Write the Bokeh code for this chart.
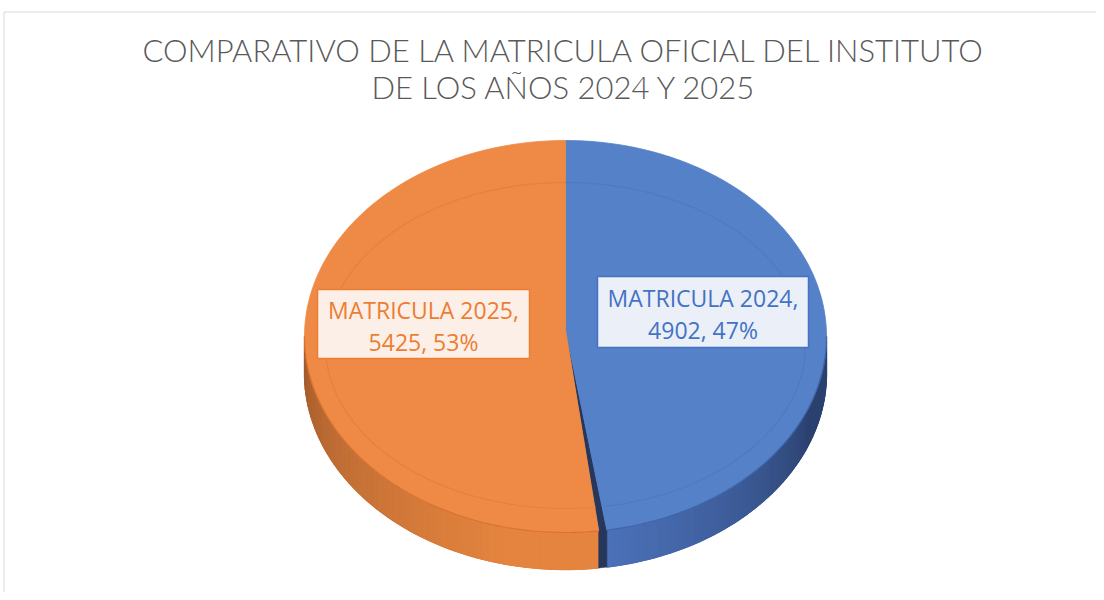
import numpy as np
from bokeh.plotting import figure
from bokeh.models import Range1d
from bokeh.embed import file_html
from bokeh.resources import INLINE
from bokeh.core.properties import value

# ---------------- data ----------------
categories = ["MATRICULA 2024", "MATRICULA 2025"]
values = [4902, 5425]
title_lines = ["COMPARATIVO DE LA MATRICULA OFICIAL DEL INSTITUTO",
               "DE LOS AÑOS 2024 Y 2025"]

# ---------------- styles ----------------
top_colors = ["#5581C9", "#EE8A45"]
ring_colors = ["#4C78C2", "#E37D3A"]
seam_colors = ["#3D64A8", "#D8722F"]
side_dark = ["#2B416F", "#A25B2B"]
side_light = ["#4C72BA", "#E4843F"]
text_colors = ["#4472C4", "#ED7D31"]
box_fills = ["#EAEFF8", "#FCEFE8"]
box_lines = ["#4472C4", "#ED7D31"]
label_boxes = [(597, 808, 276, 347), (317, 529, 289, 358)]   # left, right, top, bottom
label_text_y = [(297, 329), (309, 341)]                     # centre of caps, 2 lines

W, H = 1096, 592
p = figure(width=W, height=H, x_range=Range1d(0, W), y_range=Range1d(H, 0),
           output_backend="svg", toolbar_location=None, min_border=0,
           outline_line_color=None)
p.axis.visible = False
p.grid.visible = False
p.background_fill_color = "white"
p.border_fill_color = "white"

# chart area border
p.line([3.5, 3.5], [600, 11.5], line_color="#D9D9D9", line_width=1)
p.line([3.5, 1104], [11.5, 11.5], line_color="#D9D9D9", line_width=1)

cx, cy, a, b, depth = 565.0, 336.0, 261.0, 196.0, 37.0
apx, apy = 565.0, 329.0
gap = np.radians(1.8)


def ex(t):
    return cx + a * np.sin(t)


def ey(t, dy=0.0):
    return cy - b * np.cos(t) + dy


def hex2rgb(h):
    h = h.lstrip("#")
    return np.array([int(h[i:i + 2], 16) for i in (0, 2, 4)], dtype=float)


def mix(c1, c2, t):
    r = hex2rgb(c1) * (1 - t) + hex2rgb(c2) * t
    return "#%02x%02x%02x" % tuple(int(round(v)) for v in r)


total = float(sum(values))
bounds = np.concatenate([[0.0], np.cumsum(values) / total]) * 2 * np.pi
starts = [bounds[0], bounds[1] + gap]
ends = [bounds[1], bounds[2]]

# ---------------- side walls ----------------
for i in range(len(values)):
    s = max(starts[i], np.pi / 2)
    e = min(ends[i], 3 * np.pi / 2)
    if e <= s:
        continue
    # solid base band
    tt = np.linspace(s, e, 200)
    base = mix(side_dark[i], side_light[i], 0.6)
    p.patch(np.concatenate([ex(tt), ex(tt[::-1])]),
            np.concatenate([ey(tt), ey(tt[::-1], depth)]),
            fill_color=base, line_color=base, line_width=1)
    n = 60
    ts = np.linspace(s, e, n + 1)
    xs, ys, cols = [], [], []
    for k in range(n):
        t0, t1 = ts[k], ts[k + 1]
        xs.append([ex(t0), ex(t1), ex(t1), ex(t0)])
        ys.append([ey(t0), ey(t1), ey(t1, depth), ey(t0, depth)])
        tm = 0.5 * (t0 + t1)
        if i == 0:
            u = np.clip((tm - np.radians(112)) / np.radians(60), 0, 1)
        else:
            u = np.clip((np.radians(268) - tm) / np.radians(75), 0, 1)
        cols.append(mix(side_dark[i], side_light[i], u ** 0.8))
    p.patches(xs, ys, fill_color=cols, line_color=cols, line_width=1.3)

# cut face (dark wall between slices)
tb, to = ends[0], starts[1]
p.patch([apx, ex(tb), ex(tb), ex(to), ex(to)],
        [apy, ey(tb), ey(tb, depth), ey(to, depth), ey(to)],
        fill_color="#27375B", line_color="#27375B", line_width=0.6)

# ---------------- top faces ----------------
for i in range(len(values)):
    ts = np.linspace(starts[i], ends[i], 200)
    xs = np.concatenate([[apx], ex(ts)])
    ys = np.concatenate([[apy], ey(ts)])
    p.patch(xs, ys, fill_color=top_colors[i], line_color=top_colors[i], line_width=0.8)

# bevel ring
rcx, rcy, ra, rb = 565.0, 345.0, 240.0, 163.0
for i in range(len(values)):
    ts = np.linspace(starts[i], ends[i], 200)
    p.line(rcx + ra * np.sin(ts), rcy - rb * np.cos(ts),
           line_color=ring_colors[i], line_width=1.2, line_alpha=0.8)

# seam between top face and side
for i in range(len(values)):
    s = max(starts[i], np.pi / 2)
    e = min(ends[i], 3 * np.pi / 2)
    ts = np.linspace(s, e, 150)
    p.line(ex(ts), ey(ts), line_color=seam_colors[i], line_width=1.2)

# ---------------- data labels ----------------
pcts = [int(round(100 * v / total)) for v in values]
for i in range(len(values)):
    l, r, t, btm = label_boxes[i]
    lx = 0.5 * (l + r)
    p.quad(left=l, right=r, top=t, bottom=btm,
           fill_color=box_fills[i], line_color=box_lines[i], line_width=1.5)
    p.text(x=[lx, lx], y=list(label_text_y[i]),
           text=[f"{categories[i]},", f"{values[i]}, {pcts[i]}%"],
           text_font=value("Open Sans"), text_font_size="23px",
           text_color=text_colors[i], text_align="center", text_baseline="alphabetic")

# ---------------- title ----------------
p.text(x=[564, 564], y=[49, 86], text=title_lines,
       text_font=value("Lato Light"), text_font_size="31px",
       text_color="#595959", text_align="center", text_baseline="alphabetic")

open("out.html", "w").write(file_html(p, INLINE))
